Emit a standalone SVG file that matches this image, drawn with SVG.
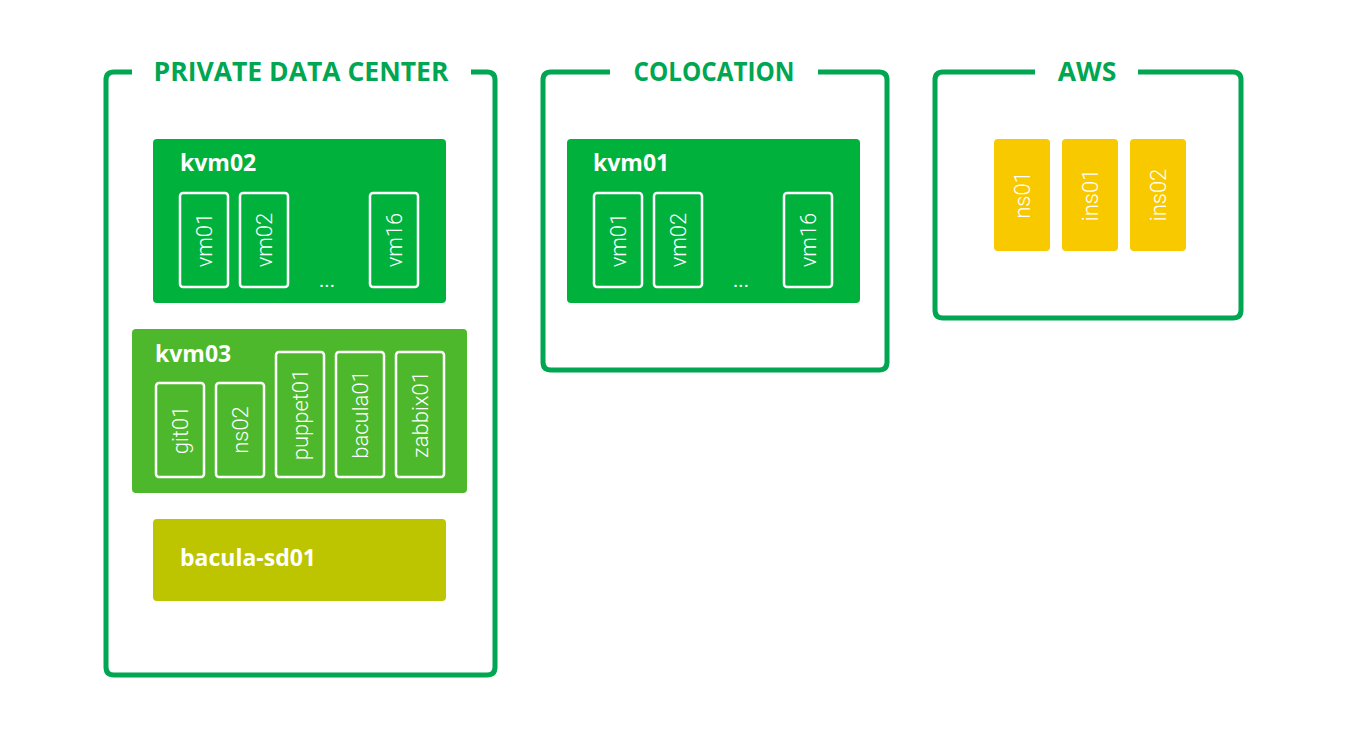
<svg xmlns="http://www.w3.org/2000/svg" width="1350" height="750" viewBox="0 0 1350 750">
<style>
.frame{fill:none;stroke:#00a651;stroke-width:5;stroke-linejoin:round}
.title{font-family:"Open Sans","Liberation Sans",sans-serif;font-weight:700;font-size:26.5px;fill:#00a651;text-anchor:middle}
.host{font-family:"Open Sans","Liberation Sans",sans-serif;font-weight:700;font-size:23px;fill:#fff}
.vm{fill:none;stroke:#fff;stroke-width:2.5}
.vmt{font-family:Roboto,"Liberation Sans",sans-serif;font-weight:300;font-size:22px;fill:#fff;text-anchor:middle;dominant-baseline:central}
.dots{font-family:Roboto,"Liberation Sans",sans-serif;font-size:20px;fill:#fff;text-anchor:middle}
</style>
<rect width="1350" height="750" fill="#fff"/>

<g id="private-data-center">
<path class="frame" d="M132,72 H114 Q106,72 106,80 V667 Q106,675 114,675 H487 Q495,675 495,667 V80 Q495,72 487,72 H471"/>
<text class="title" x="301" y="81">PRIVATE DATA CENTER</text>
</g>

<g id="colocation">
<path class="frame" d="M610,72 H551 Q543,72 543,80 V362 Q543,370 551,370 H879 Q887,370 887,362 V80 Q887,72 879,72 H818"/>
<text class="title" x="714" y="81" textLength="161" lengthAdjust="spacingAndGlyphs">COLOCATION</text>
</g>

<g id="aws">
<path class="frame" d="M1035,72 H943 Q935,72 935,80 V310 Q935,318 943,318 H1233 Q1241,318 1241,310 V80 Q1241,72 1233,72 H1138"/>
<text class="title" x="1087" y="81">AWS</text>
</g>

<g id="kvm02">
<rect x="153" y="139" width="293" height="164" rx="4" fill="#00b13c"/>
<text class="host" x="180" y="171">kvm02</text>
<rect class="vm" x="180" y="193" width="48" height="94" rx="3"/>
<text class="vmt" transform="translate(204,240) rotate(-90)">vm01</text>
<rect class="vm" x="240" y="193" width="48" height="94" rx="3"/>
<text class="vmt" transform="translate(264,240) rotate(-90)">vm02</text>
<text class="dots" x="327" y="287">...</text>
<rect class="vm" x="370" y="193" width="48" height="94" rx="3"/>
<text class="vmt" transform="translate(394,240) rotate(-90)">vm16</text>
</g>

<g id="kvm03">
<rect x="132" y="329" width="335" height="164" rx="4" fill="#4db82b"/>
<text class="host" x="155" y="362">kvm03</text>
<rect class="vm" x="156" y="383" width="48" height="94" rx="3"/>
<text class="vmt" transform="translate(180,430) rotate(-90)">git01</text>
<rect class="vm" x="216" y="383" width="48" height="94" rx="3"/>
<text class="vmt" transform="translate(240,430) rotate(-90)">ns02</text>
<rect class="vm" x="276" y="352" width="48" height="125" rx="3"/>
<text class="vmt" transform="translate(300,414.5) rotate(-90)">puppet01</text>
<rect class="vm" x="336" y="352" width="48" height="125" rx="3"/>
<text class="vmt" transform="translate(360,414.5) rotate(-90)">bacula01</text>
<rect class="vm" x="396" y="352" width="48" height="125" rx="3"/>
<text class="vmt" transform="translate(420,414.5) rotate(-90)">zabbix01</text>
</g>

<g id="bacula-sd01">
<rect x="153" y="519" width="293" height="82" rx="4" fill="#bcc500"/>
<text class="host" x="180" y="566">bacula-sd01</text>
</g>

<g id="kvm01">
<rect x="567" y="139" width="293" height="164" rx="4" fill="#00b13c"/>
<text class="host" x="593" y="171">kvm01</text>
<rect class="vm" x="594" y="193" width="48" height="94" rx="3"/>
<text class="vmt" transform="translate(618,240) rotate(-90)">vm01</text>
<rect class="vm" x="654" y="193" width="48" height="94" rx="3"/>
<text class="vmt" transform="translate(678,240) rotate(-90)">vm02</text>
<text class="dots" x="741" y="287">...</text>
<rect class="vm" x="784" y="193" width="48" height="94" rx="3"/>
<text class="vmt" transform="translate(808,240) rotate(-90)">vm16</text>
</g>

<g id="ns01">
<rect x="994" y="139" width="56" height="112" rx="4" fill="#f9c900"/>
<text class="vmt" transform="translate(1022,195) rotate(-90)">ns01</text>
</g>
<g id="ins01">
<rect x="1062" y="139" width="56" height="112" rx="4" fill="#f9c900"/>
<text class="vmt" transform="translate(1090,195) rotate(-90)">ins01</text>
</g>
<g id="ins02">
<rect x="1130" y="139" width="56" height="112" rx="4" fill="#f9c900"/>
<text class="vmt" transform="translate(1158,195) rotate(-90)">ins02</text>
</g>

<g id="connectors"/>
</svg>
